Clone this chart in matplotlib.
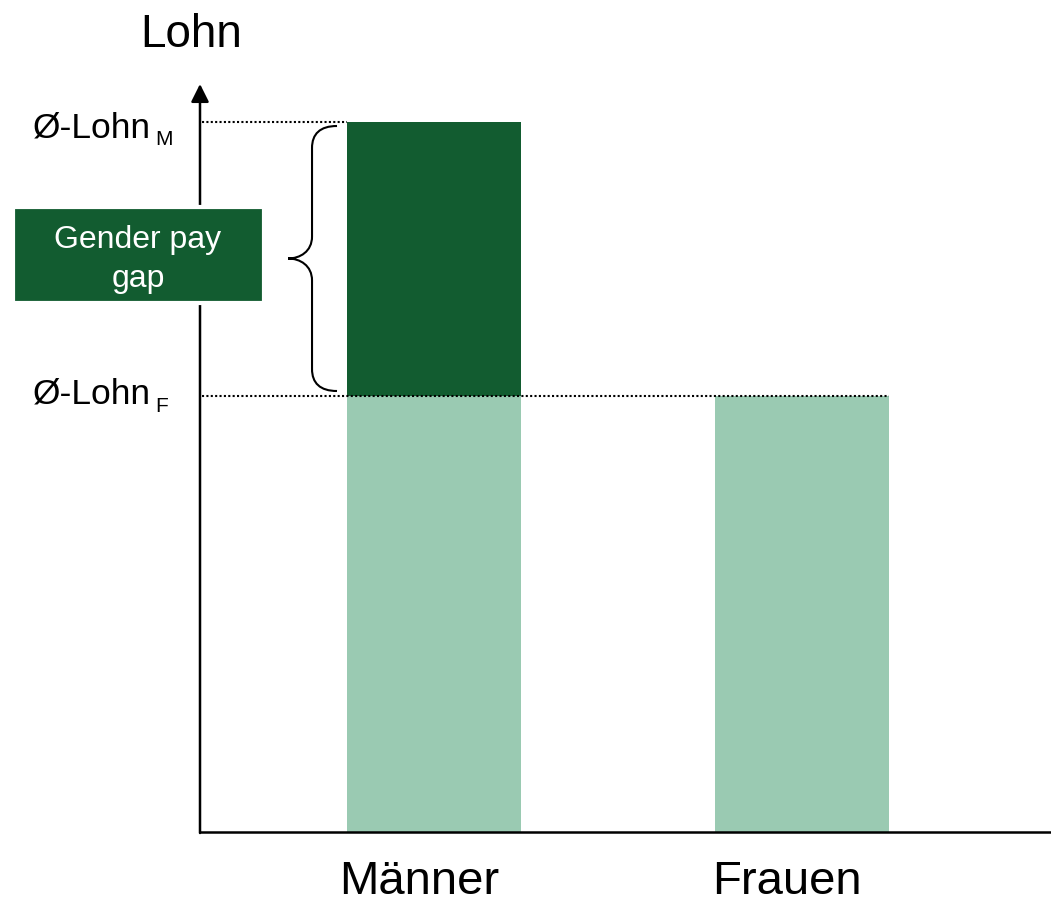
import matplotlib
matplotlib.use("Agg")
import matplotlib.pyplot as plt
from matplotlib.patches import Rectangle, PathPatch
from matplotlib.path import Path

plt.rcParams['font.family'] = ['Liberation Sans', 'DejaVu Sans']

# ---- data ----
categories = ["Männer", "Frauen"]
lohn_frauen = 43.6          # average wage women (base level)
lohn_maenner = 71.0         # average wage men
base_values = [lohn_frauen, lohn_frauen]
gap_values = [lohn_maenner - lohn_frauen, 0.0]
y_label_main = "Ø-Lohn"
y_sub_m = "M"
y_sub_f = "F"
axis_title = "Lohn"
gap_lines = ["Gender pay", "gap"]

dark = "#125C30"
light = "#9ACAB2"

W, H = 1051, 903
fig = plt.figure(figsize=(W / 100, H / 100), dpi=100)
ax = fig.add_axes([200 / W, 70 / H, 851 / W, 748 / H])
xmin, xmax = -0.636, 1.677
ymax = 74.8
ax.set_xlim(xmin, xmax)
ax.set_ylim(0, ymax)
ax.axis('off')

pos = list(range(len(categories)))
bw = 174 / 368
ax.bar(pos, base_values, width=bw, color=light, zorder=2)
ax.bar(pos, gap_values, bottom=base_values, width=bw, color=dark, zorder=2)

# axes lines
ax.plot([xmin, xmax], [0, 0], color='black', lw=1.8, clip_on=False, zorder=5,
        solid_capstyle='butt')
ax.annotate('', xy=(xmin, ymax), xytext=(xmin, -0.1),
            arrowprops=dict(arrowstyle='-|>,head_length=0.4,head_width=0.2',
                            mutation_scale=27, lw=1.8, color='black',
                            shrinkA=0, shrinkB=0), annotation_clip=False, zorder=5)

# dotted reference lines
ax.plot([xmin + 0.006, pos[0] - bw / 2], [lohn_maenner, lohn_maenner],
        color='black', lw=1.5, ls=(0, (1, 1.1)), zorder=4)
ax.plot([xmin + 0.006, pos[1] + bw / 2], [lohn_frauen, lohn_frauen],
        color='black', lw=1.5, ls=(0, (1, 1.1)), zorder=4)

# y labels (main text + smaller subscript)
for val, sub, dy in [(lohn_maenner, y_sub_m, -14), (lohn_frauen, y_sub_f, -7)]:
    ax.annotate(y_label_main, xy=(xmin, val), xytext=(-49, dy),
                textcoords='offset pixels', ha='right', va='baseline', fontsize=25.5,
                annotation_clip=False)
    ax.annotate(sub, xy=(xmin, val), xytext=(-45, dy - 8),
                textcoords='offset pixels', ha='left', va='baseline', fontsize=15,
                annotation_clip=False)

# axis title
ax.annotate(axis_title, xy=(xmin, ymax), xytext=(-9, 38),
            textcoords='offset pixels', ha='center', va='baseline', fontsize=33,
            annotation_clip=False)

# category labels
for p, c in zip(pos, categories):
    ax.annotate(c, xy=(p, 0), xytext=(-15, -61), textcoords='offset pixels',
                ha='center', va='baseline', fontsize=34, annotation_clip=False)

# curly brace
sx = 1 / 368.0   # data units per pixel (x)
sy = 1 / 10.0    # data units per pixel (y)
x_end = pos[0] - bw / 2 - 10 * sx
x_v = x_end - 25 * sx
x_tip = x_end - 49 * sx
top = lohn_maenner - 4 * sy
bot = lohn_frauen + 5 * sy
mid = (top + bot) / 2
r = 22 * sy
verts = [
    (x_end, top),
    (x_v + 8 * sx, top), (x_v, top - 8 * sy), (x_v, top - r),
    (x_v, mid + r),
    (x_v, mid + 7 * sy), (x_v - 12 * sx, mid), (x_tip, mid),
    (x_v - 12 * sx, mid), (x_v, mid - 7 * sy), (x_v, mid - r),
    (x_v, bot + r),
    (x_v, bot + 8 * sy), (x_v + 8 * sx, bot), (x_end, bot),
]
codes = [Path.MOVETO,
         Path.CURVE4, Path.CURVE4, Path.CURVE4,
         Path.LINETO,
         Path.CURVE4, Path.CURVE4, Path.CURVE4,
         Path.CURVE4, Path.CURVE4, Path.CURVE4,
         Path.LINETO,
         Path.CURVE4, Path.CURVE4, Path.CURVE4]
ax.add_patch(PathPatch(Path(verts, codes), fill=False, lw=1.5, color='black', zorder=4))

# gender pay gap box
fig.add_artist(Rectangle((12.5 / W, 1 - 303.5 / H), 251 / W, 95 / H,
                         transform=fig.transFigure, facecolor=dark,
                         edgecolor='white', lw=3, zorder=10))
for line, base_px in zip(gap_lines, [248, 287]):
    fig.text(138 / W, 1 - base_px / H, line, ha='center', va='baseline',
             color='white', fontsize=23, zorder=11)

fig.savefig("out.png", dpi=100)
